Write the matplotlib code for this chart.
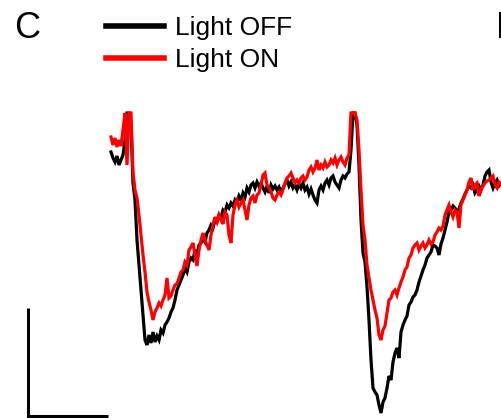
import numpy as np
import matplotlib
matplotlib.use("Agg")
import matplotlib.pyplot as plt

plt.rcParams["font.family"] = ["Liberation Sans", "DejaVu Sans"]

# sampling interval of the traces (ms)
dt = 0.5

# whole-cell current, light off (pA, baseline-subtracted)
light_off = [
    28, 22, 18, 24, 15, 20, 25, 40, 67, 67,
    55, -3, -20, -60, -85, -110, -135, -160, -165, -155,
    -163, -152, -162, -156, -160, -150, -153, -145, -142, -138,
    -132, -128, -120, -110, -105, -100, -95, -88, -92, -82,
    -78, -80, -70, -75, -65, -63, -58, -62, -53, -50,
    -45, -48, -40, -42, -35, -38, -30, -32, -25, -28,
    -23, -26, -20, -23, -16, -20, -13, -17, -8, -12,
    -5, -3, -8, -2, -6, -3, -8, -12, -6, -13,
    -5, -9, -6, -10, -7, -12, -8, -4, 0, -6,
    -2, -8, -5, -10, -4, -8, -3, -10, -7, -14,
    -9, -15, -20, -23, -10, -6, -10, -3, 0, -5,
    2, 4, -2, -5, -8, 0, 4, 2, 6, 8,
    30, 67, 67, 55, 15, -40, -73, -82, -107, -140,
    -180, -208, -212, -215, -225, -233, -222, -218, -208, -196,
    -200, -182, -173, -168, -178, -152, -145, -140, -136, -125,
    -122, -117, -115, -110, -102, -96, -90, -85, -78, -75,
    -72, -65, -66, -68, -75, -64, -58, -50, -42, -32,
    -30, -26, -28, -32, -29, -23, -19, -14, -10, -6,
    -8, -5, -13, -10, -6, -10, -5, 4, 8, 10,
    -2, -8, -3, 0, -6, -4,
]

# whole-cell current, light on (pA)
light_on = [
    43, 35, 42, 33, 40, 34, 50, 67, 15, 67,
    67, 8, -10, -18, -35, -55, -75, -92, -112, -122,
    -130, -140, -132, -128, -123, -126, -120, -115, -98, -118,
    -116, -110, -105, -104, -98, -92, -90, -82, -85, -70,
    -67, -63, -75, -86, -70, -60, -53, -60, -65, -70,
    -55, -45, -37, -42, -35, -40, -44, -32, -35, -55,
    -63, -35, -25, -20, -27, -23, -20, -30, -40, -25,
    -18, -16, -23, -15, -13, -5, 5, 7, -5, -8,
    -12, -18, -20, -15, -12, -15, -10, -3, 2, 4,
    7, 2, -3, 0, -3, 2, 4, 0, 3, 10,
    13, 8, 12, 20, 10, 15, 12, 18, 13, 15,
    20, 17, 22, 15, 20, 23, 18, 15, 22, 25,
    67, 67, 67, 60, 30, -10, -45, -60, -85, -98,
    -110, -120, -130, -138, -155, -160, -150, -146, -133, -120,
    -118, -112, -110, -115, -108, -102, -97, -90, -87, -78,
    -75, -68, -65, -63, -70, -66, -63, -68, -65, -60,
    -64, -62, -55, -52, -48, -50, -46, -35, -30, -25,
    -32, -37, -30, -32, -48, -25, -20, -15, -10, -2,
    2, -10, -5, -3, -16, -10, -6, -3, -1, 0,
    2, 4, -5, -8, -2, -4,
]

labels = ["Light OFF", "Light ON"]
colors = ["black", "#ff0000"]

# scale bar sizes
bar_ms = 20
bar_pA = 108

t_off = np.arange(len(light_off)) * dt
t_on = np.arange(len(light_on)) * dt

fig = plt.figure(figsize=(5.02, 4.18), dpi=100)
ax = fig.add_axes([0, 0, 1, 1])
ax.set_xlim(-27.75, 97.75)
ax.set_ylim(-238, 180)
ax.axis("off")

ax.plot(t_off, light_off, color=colors[0], lw=2.3, label=labels[0],
        solid_joinstyle="miter")
ax.plot(t_on, light_on, color=colors[1], lw=2.3, label=labels[1],
        solid_joinstyle="miter")

# scale bar, bottom left
x0, y0 = -20.75, -236
ax.plot([x0, x0, x0 + bar_ms], [y0 + bar_pA, y0, y0], color="black",
        lw=2.2, solid_capstyle="butt", solid_joinstyle="miter")

leg = ax.legend(loc="upper left", bbox_to_anchor=(106 / 502, 1 - 16 / 418),
                frameon=False, fontsize=19, handlelength=2.2,
                handletextpad=0.42, labelspacing=0.3, borderpad=0,
                borderaxespad=0)
for line in leg.get_lines():
    line.set_linewidth(4)

fig.text(27 / 502, 1 - 28 / 418, "C", fontsize=26, ha="center", va="center")
fig.text(496 / 502, 1 - 28 / 418, "D", fontsize=26, ha="left", va="center")

fig.savefig("out.png", dpi=100)
